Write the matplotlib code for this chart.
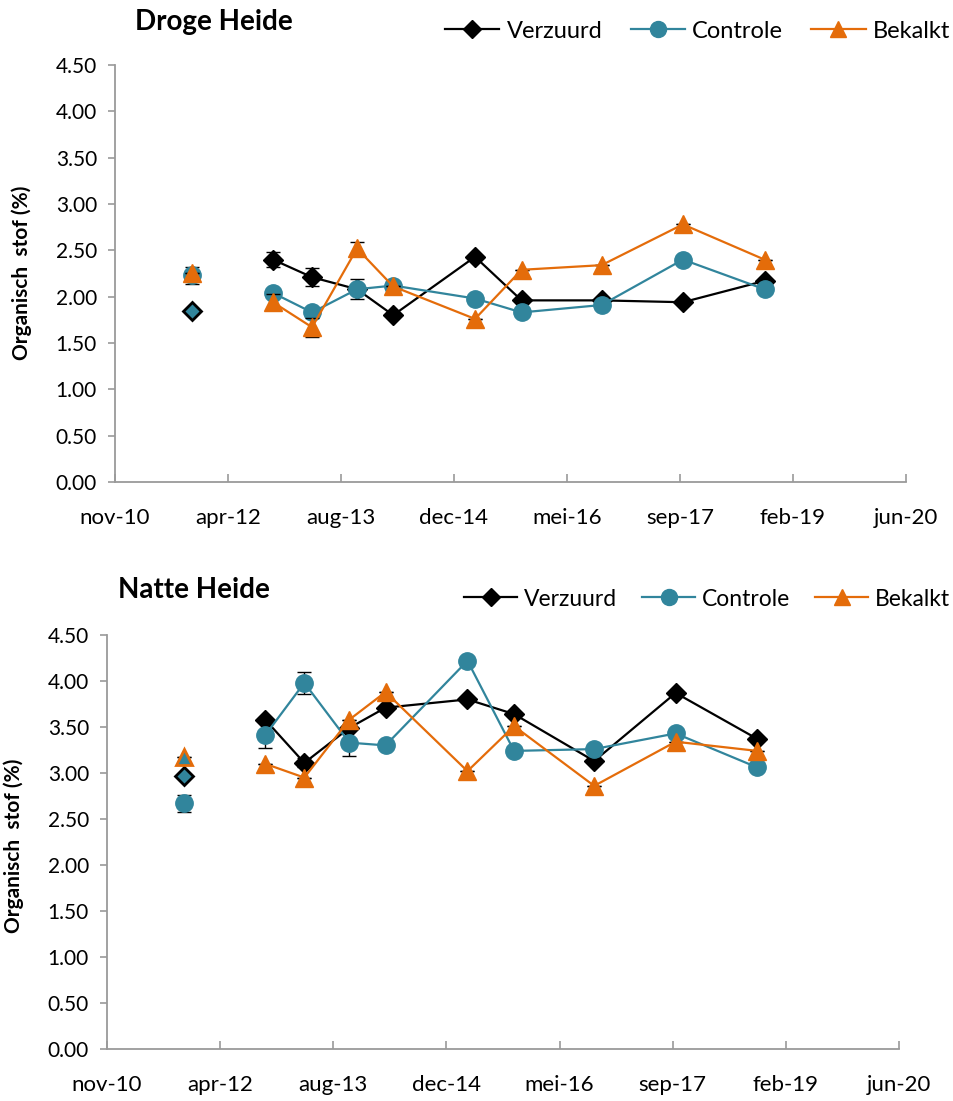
import numpy as np
import pandas as pd
import matplotlib
matplotlib.use("Agg")
import matplotlib.pyplot as plt
from matplotlib.lines import Line2D

plt.rcParams['font.family'] = ['Lato', 'DejaVu Sans']

# sampling dates (first one is the baseline measurement, plotted on its own)
first_date = pd.to_datetime(["2011-10-26"])
dates = pd.to_datetime(["2012-10-18", "2013-04-09", "2013-10-25", "2014-04-03",
                        "2015-03-31", "2015-10-23", "2016-10-11", "2017-10-06",
                        "2018-10-02"])

series_names = ["Verzuurd", "Controle", "Bekalkt"]
tick_labels = ["nov-10", "apr-12", "aug-13", "dec-14", "mei-16", "sep-17", "feb-19", "jun-20"]

# Droge Heide
droge_first = [1.85, 2.23, 2.26]
droge_verzuurd = [2.40, 2.21, 2.08, 1.80, 2.43, 1.96, 1.96, 1.94, 2.17]
droge_controle = [2.04, 1.83, 2.08, 2.12, 1.98, 1.83, 1.91, 2.40, 2.08]
droge_bekalkt = [1.94, 1.67, 2.52, 2.11, 1.76, 2.29, 2.34, 2.78, 2.40]
droge_first_err = [0.0, 0.09, 0.0]
droge_verzuurd_err = [0.085, 0.10, 0.0, 0.0, 0.0, 0.0, 0.0, 0.0, 0.0]
droge_controle_err = [0.0, 0.0, 0.11, 0.0, 0.0, 0.0, 0.0, 0.0, 0.0]
droge_bekalkt_err = [0.085, 0.10, 0.07, 0.0, 0.0, 0.0, 0.0, 0.0, 0.0]

# Natte Heide
natte_first = [2.97, 2.67, 3.17]
natte_verzuurd = [3.58, 3.11, 3.49, 3.71, 3.80, 3.64, 3.13, 3.87, 3.37]
natte_controle = [3.41, 3.98, 3.33, 3.30, 4.22, 3.24, 3.26, 3.43, 3.06]
natte_bekalkt = [3.10, 2.95, 3.58, 3.88, 3.02, 3.51, 2.86, 3.34, 3.24]
natte_first_err = [0.0, 0.09, 0.0]
natte_verzuurd_err = [0.0, 0.05, 0.0, 0.0, 0.0, 0.0, 0.0, 0.0, 0.0]
natte_controle_err = [0.14, 0.12, 0.14, 0.0, 0.0, 0.0, 0.0, 0.0, 0.0]
natte_bekalkt_err = [0.0, 0.0, 0.0, 0.0, 0.0, 0.0, 0.0, 0.0, 0.0]

BLACK = "#000000"
TEAL = "#31859C"
ORANGE = "#E46C0A"
AXIS_GREY = "#9A9A9A"

colors = [BLACK, TEAL, ORANGE]
markers = ["D", "o", "^"]
msizes = [10, 12.5, 12.5]


def draw_panel(ax, first, first_err, vals, errs, first_faces):
    for i in range(3):
        # error bars go below the markers
        ax.errorbar(dates, vals[i], yerr=errs[i], fmt="none", ecolor=BLACK,
                    elinewidth=1.0, capsize=5, capthick=1.0, zorder=2 + i)
        ax.errorbar(first_date, [first[i]], yerr=[first_err[i]], fmt="none",
                    ecolor=BLACK, elinewidth=1.0, capsize=5, capthick=1.0, zorder=2 + i)
        ax.plot(dates, vals[i], color=colors[i], lw=1.6, marker=markers[i],
                ms=msizes[i], mfc=colors[i], mec=colors[i], zorder=3 + i)
        odd = first_faces[i] != colors[i]
        ax.plot(first_date, [first[i]], linestyle="none", marker=markers[i],
                ms=msizes[i] - (1 if odd else 0), mfc=first_faces[i],
                mec=colors[i], mew=2 if odd else 1, zorder=3 + i)

    start = pd.Timestamp("2010-11-19")
    ticks = [start + pd.Timedelta(days=500 * k) for k in range(len(tick_labels))]
    ax.set_xlim(ticks[0], ticks[-1])
    ax.set_xticks(ticks)
    ax.set_xticklabels(tick_labels)
    ax.set_ylim(0, 4.5)
    ax.set_yticks(np.arange(0, 4.51, 0.5))
    ax.set_yticklabels(["%.2f" % v for v in np.arange(0, 4.51, 0.5)])
    for s in ["top", "right"]:
        ax.spines[s].set_visible(False)
    for s in ["left", "bottom"]:
        ax.spines[s].set_color(AXIS_GREY)
        ax.spines[s].set_linewidth(1.3)
    ax.tick_params(axis="y", direction="out", length=5, color=AXIS_GREY,
                   width=1.2, labelsize=15, pad=8)
    ax.tick_params(axis="x", direction="in", length=6, color=AXIS_GREY,
                   width=1.2, labelsize=16, pad=19)


fig = plt.figure(figsize=(9.54, 11.01), dpi=100)

ax1 = fig.add_axes([115 / 954, 1 - 482 / 1101, (906 - 115) / 954, (482 - 65) / 1101])
draw_panel(ax1, droge_first, droge_first_err,
           [droge_verzuurd, droge_controle, droge_bekalkt],
           [droge_verzuurd_err, droge_controle_err, droge_bekalkt_err],
           [TEAL, TEAL, ORANGE])

ax2 = fig.add_axes([107 / 954, 1 - 1049 / 1101, (899 - 107) / 954, (1049 - 635) / 1101])
draw_panel(ax2, natte_first, natte_first_err,
           [natte_verzuurd, natte_controle, natte_bekalkt],
           [natte_verzuurd_err, natte_controle_err, natte_bekalkt_err],
           [TEAL, TEAL, TEAL])

fig.text(135 / 954, 1 - 22 / 1101, "Droge Heide", fontsize=20, fontweight="bold",
         va="center", ha="left")
fig.text(118 / 954, 1 - 590 / 1101, "Natte Heide", fontsize=20, fontweight="bold",
         va="center", ha="left")

fig.text(22 / 954, 1 - 273 / 1101, "Organisch  stof (%)", fontsize=15,
         fontweight="bold", rotation=90, va="center", ha="center")
fig.text(14 / 954, 1 - 846 / 1101, "Organisch  stof (%)", fontsize=15,
         fontweight="bold", rotation=90, va="center", ha="center")

handles = [Line2D([], [], color=colors[i], lw=1.6, marker=markers[i],
                  ms=msizes[i] - 1, mfc=colors[i], mec=colors[i])
           for i in range(3)]

for y, fs, cs in [(31, 17, 1.2), (599, 16.5, 1.1)]:
    fig.legend(handles, series_names, loc="center right",
               bbox_to_anchor=(950 / 954, 1 - y / 1101), ncol=3, frameon=False,
               fontsize=fs, handlelength=2.3, handletextpad=0.3,
               columnspacing=cs, borderaxespad=0, borderpad=0)

fig.savefig("out.png", dpi=100)
